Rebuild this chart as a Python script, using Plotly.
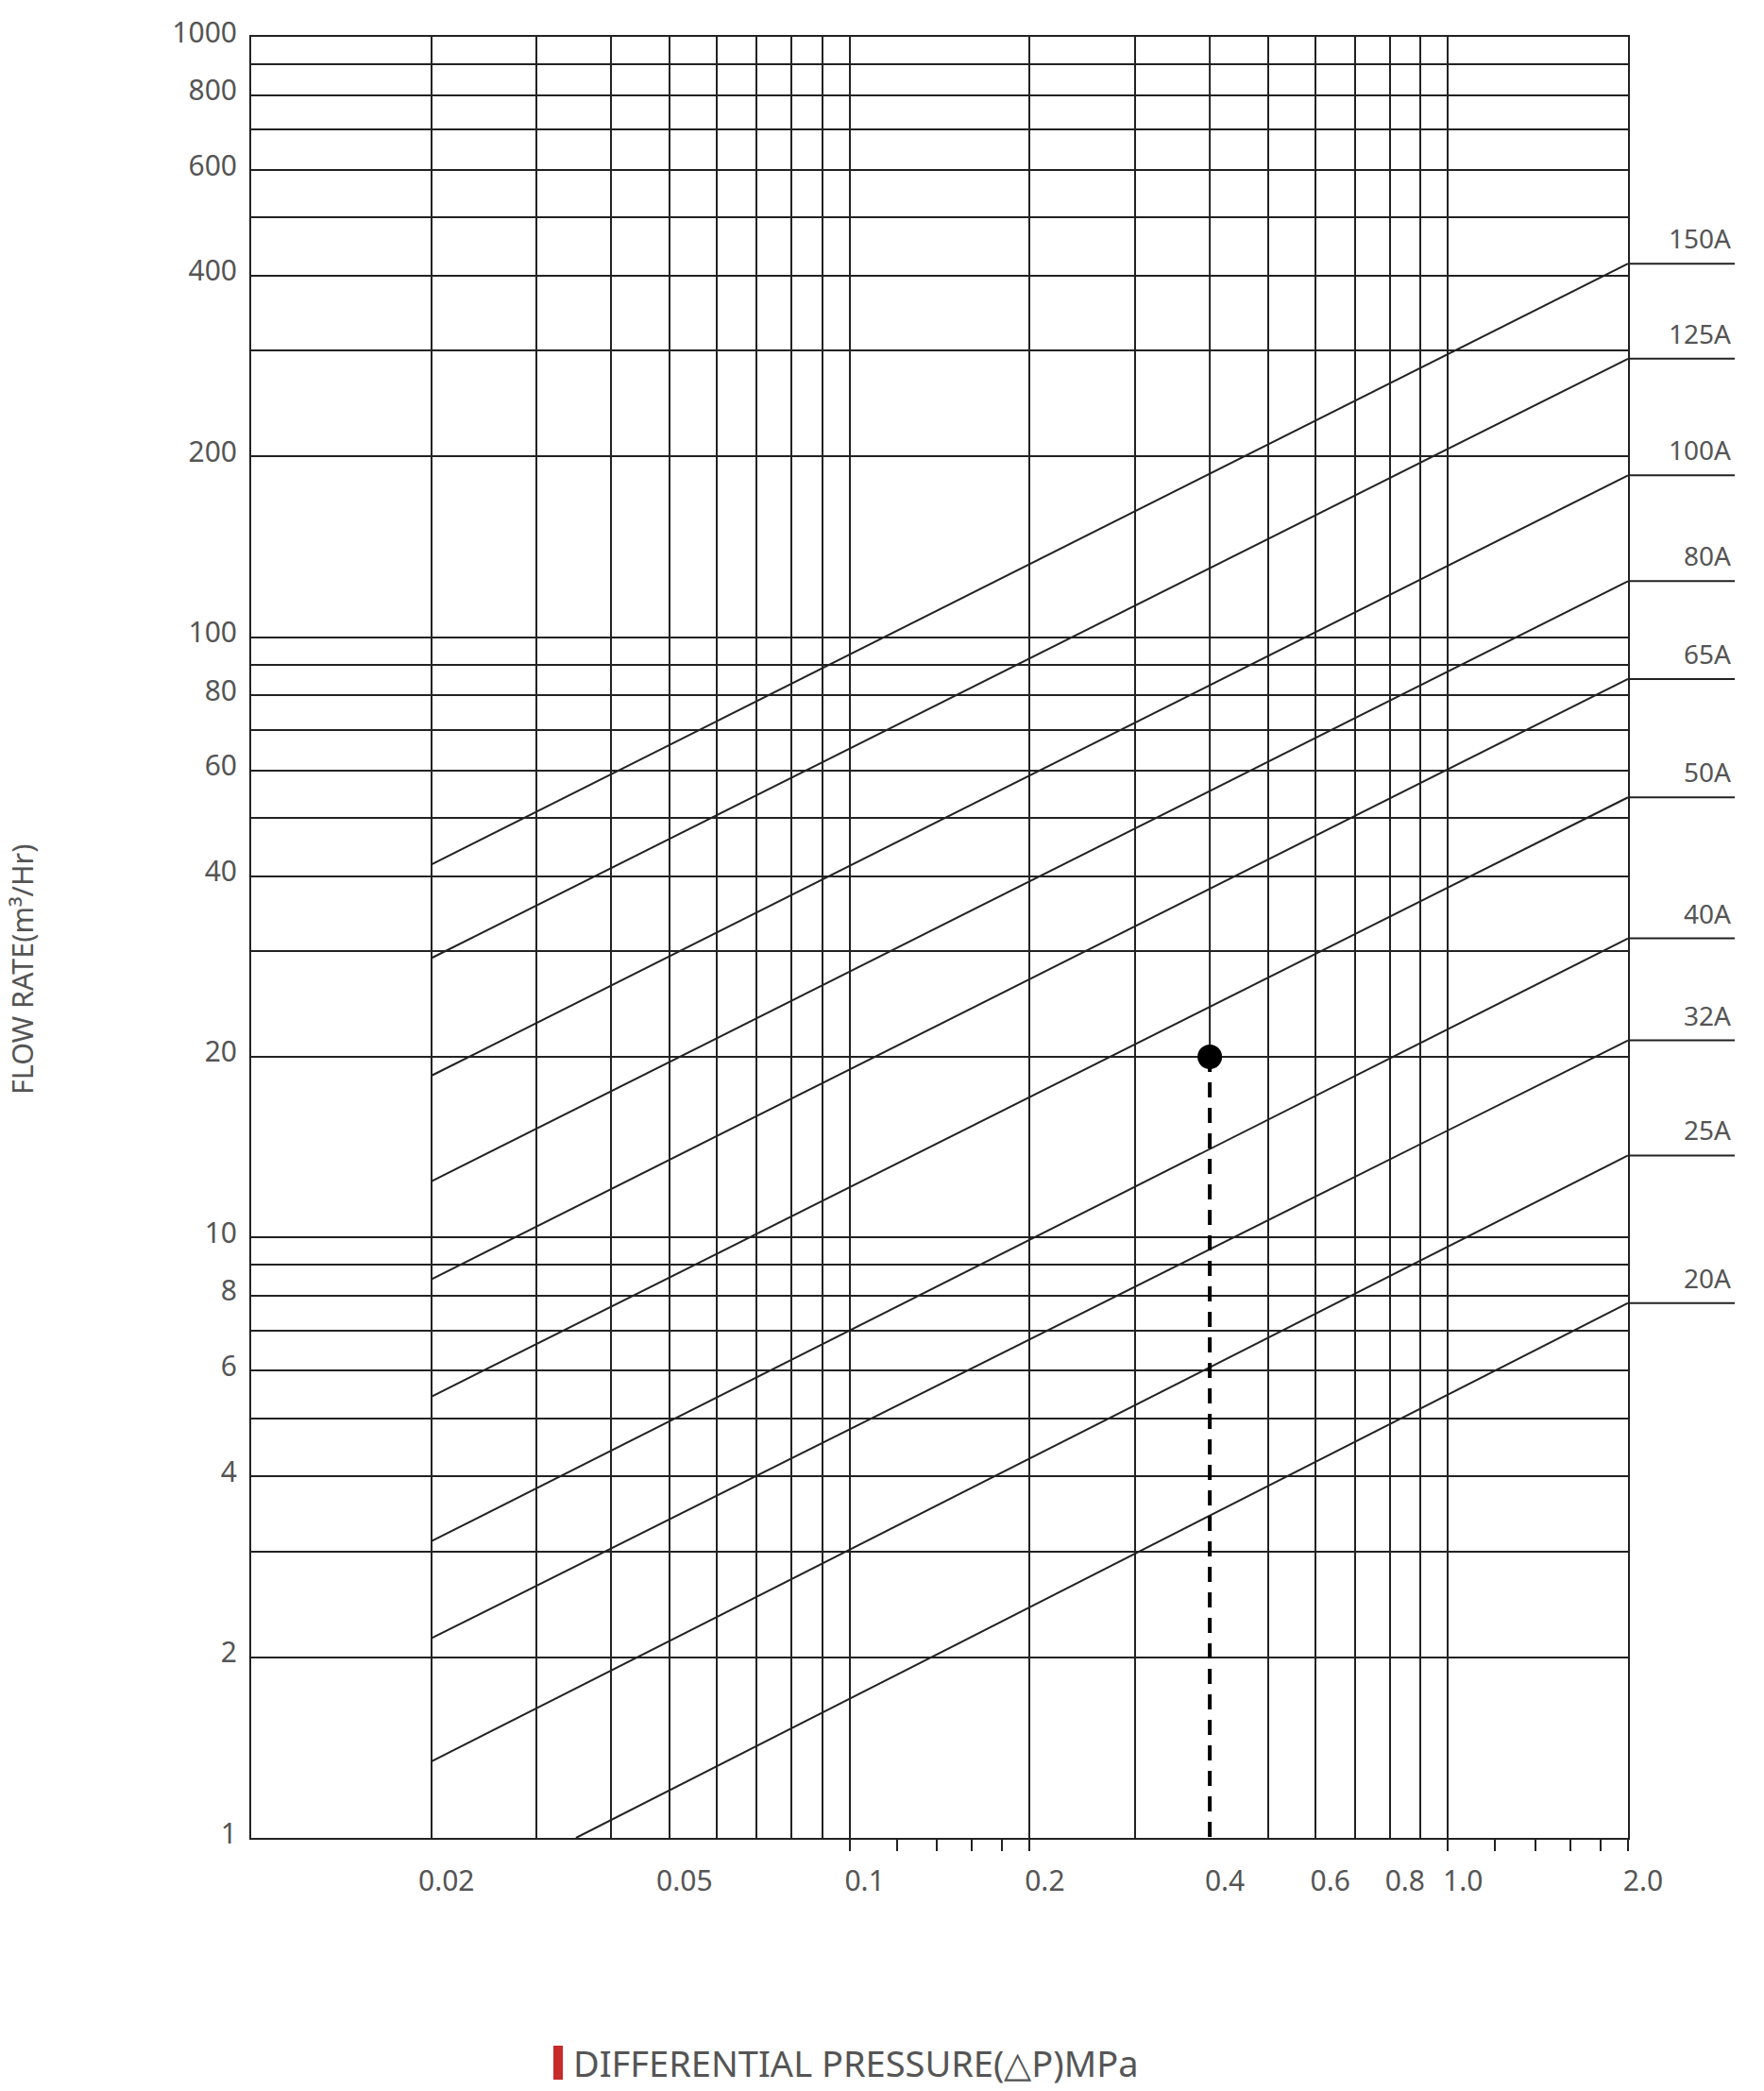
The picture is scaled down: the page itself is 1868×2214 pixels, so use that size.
import numpy as np
import plotly.graph_objects as go

# ---------------- data ----------------
sizes = ["150A", "125A", "100A", "80A", "65A", "50A", "40A", "32A", "25A", "20A"]
start_dp = [0.02, 0.02, 0.02, 0.02, 0.02, 0.02, 0.02, 0.02, 0.02, 0.0349]
start_q = [41.8, 29.2, 18.6, 12.4, 8.52, 5.43, 3.12, 2.15, 1.34, 1.0]
end_dp = [2.0] * 10
end_q = [419, 291, 186, 124, 85.2, 54.1, 31.5, 21.3, 13.7, 7.78]

op_dp = 0.4
op_q = 20

x_grid = [0.02, 0.03, 0.04, 0.05, 0.06, 0.07, 0.08, 0.09, 0.1, 0.2, 0.3,
          0.5, 0.6, 0.7, 0.8, 0.9, 1.0]
x_tick_marks = [0.1, 0.12, 0.14, 0.16, 0.18, 0.2, 1.0, 1.2, 1.4, 1.6, 1.8, 2.0]
x_label_vals = [0.02, 0.05, 0.1, 0.2, 0.4, 0.6, 0.8, 1.0, 2.0]
x_labels = ["0.02", "0.05", "0.1", "0.2", "0.4", "0.6", "0.8", "1.0", "2.0"]

y_grid = [1, 2, 3, 4, 5, 6, 7, 8, 9, 10, 20, 30, 40, 50, 60, 70, 80, 90,
          100, 200, 300, 400, 500, 600, 700, 800, 900, 1000]
y_label_vals = [1, 2, 4, 6, 8, 10, 20, 40, 60, 80, 100, 200, 400, 600, 800, 1000]

x_min, x_max = 0.01, 2.0
y_min, y_max = 1, 1000

# ---------------- style ----------------
LINE = "#222222"
TEXT = "#555555"
FONT = "Noto Sans"
W, H = 1868, 2214
ML, MR, MT, MB = 266, 31, 39, 268
plot_w = W - ML - MR
plot_h = H - MT - MB
main_right = (1724 - ML) / plot_w

fig = go.Figure()

# flow lines
for s, x0, q0, x1, q1 in zip(sizes, start_dp, start_q, end_dp, end_q):
    fig.add_trace(go.Scatter(x=[x0, x1], y=[q0, q1], mode="lines",
                             line=dict(color=LINE, width=2),
                             hoverinfo="skip", showlegend=False))
    # label leader line to the right of the chart
    fig.add_trace(go.Scatter(x=[0, 1], y=[q1, q1], mode="lines",
                             xaxis="x2", yaxis="y2",
                             line=dict(color=LINE, width=2),
                             hoverinfo="skip", showlegend=False))
    fig.add_annotation(x=1, y=np.log10(q1), xref="x2", yref="y2",
                       text=s, showarrow=False, xanchor="right",
                       yanchor="bottom", xshift=-2, yshift=6,
                       font=dict(family=FONT, size=28, color=TEXT))

# operating point: solid line above, dashed below
fig.add_trace(go.Scatter(x=[op_dp, op_dp], y=[y_max, op_q], mode="lines",
                         line=dict(color=LINE, width=2),
                         hoverinfo="skip", showlegend=False))
fig.add_trace(go.Scatter(x=[op_dp, op_dp], y=[op_q, y_min], mode="lines",
                         line=dict(color="#000000", width=4, dash="16px,11px"),
                         hoverinfo="skip", showlegend=False))
fig.add_trace(go.Scatter(x=[op_dp], y=[op_q], mode="markers",
                         marker=dict(color="#000000", size=26),
                         hoverinfo="skip", showlegend=False))

# dummy traces so overlay axes render
for ax in ["x3", "x4"]:
    fig.add_trace(go.Scatter(x=[x_min, x_max], y=[y_min, y_min], mode="markers",
                             xaxis=ax, yaxis="y", marker=dict(opacity=0),
                             hoverinfo="skip", showlegend=False))

xr = [np.log10(x_min), np.log10(x_max)]
yr = [np.log10(y_min), np.log10(y_max)]

y_text = [str(v) if v in y_label_vals else "" for v in y_grid]

fig.update_layout(
    width=W, height=H, autosize=False,
    margin=dict(l=ML, r=MR, t=MT, b=MB, pad=0),
    paper_bgcolor="white", plot_bgcolor="white",
    xaxis=dict(type="log", range=xr, domain=[0, main_right],
               tickmode="array", tickvals=x_grid, showticklabels=False,
               ticks="", showgrid=True, gridcolor=LINE, gridwidth=2,
               showline=True, mirror=True, linecolor=LINE, linewidth=2,
               zeroline=False, automargin=False),
    xaxis3=dict(type="log", range=xr, overlaying="x", anchor="y", side="bottom",
                tickmode="array", tickvals=x_tick_marks, showticklabels=False,
                ticks="outside", ticklen=13, tickwidth=2, tickcolor=LINE,
                showgrid=False, showline=False, zeroline=False, automargin=False),
    xaxis4=dict(type="log", range=xr, overlaying="x", anchor="y", side="bottom",
                tickmode="array", tickvals=x_label_vals, ticktext=x_labels,
                ticks="", showgrid=False, showline=False, zeroline=False,
                ticklabelshift=16, ticklabelstandoff=25, automargin=False,
                tickfont=dict(family=FONT, size=30, color=TEXT)),
    yaxis=dict(type="log", range=yr, domain=[0, 1],
               tickmode="array", tickvals=y_grid, ticktext=y_text,
               ticks="", showgrid=True, gridcolor=LINE, gridwidth=2,
               showline=True, mirror=True, linecolor=LINE, linewidth=2,
               zeroline=False, ticklabelstandoff=7, ticklabelshift=-5,
               automargin=False,
               tickfont=dict(family=FONT, size=30, color=TEXT)),
    xaxis2=dict(domain=[main_right, 1], range=[0, 1], anchor="y2",
                visible=False),
    yaxis2=dict(type="log", range=yr, anchor="x2", domain=[0, 1],
                visible=False),
)

# axis titles
fig.add_annotation(x=(23 - ML) / plot_w, y=(1946 - 1027) / plot_h,
                   xref="paper", yref="paper", text="FLOW RATE(m³/Hr)",
                   textangle=-90, showarrow=False, xanchor="center", yanchor="middle",
                   font=dict(family=FONT, size=30.5, color=TEXT))
fig.add_annotation(x=(605 - ML) / plot_w, y=-(2184 - 1946) / plot_h,
                   xref="paper", yref="paper",
                   text="DIFFERENTIAL PRESSURE(△P)MPa",
                   showarrow=False, xanchor="left", yanchor="middle",
                   font=dict(family=FONT, size=38, color=TEXT))
fig.add_shape(type="rect", xref="paper", yref="paper",
              x0=(586 - ML) / plot_w, x1=(596 - ML) / plot_w,
              y0=-(2202 - 1946) / plot_h, y1=-(2166 - 1946) / plot_h,
              fillcolor="#C62A2A", line=dict(width=0))

page_fix = (
    "document.documentElement.style.margin='0';"
    "document.body.style.margin='0';document.body.style.padding='0';"
    "document.documentElement.style.overflow='hidden';"
    "var gd=document.getElementById('{plot_id}');"
    "Plotly.relayout(gd,{width:%d,height:%d});" % (W, H)
)

fig.write_html("out.html",
               config=dict(responsive=False, displayModeBar=False),
               post_script=page_fix)
